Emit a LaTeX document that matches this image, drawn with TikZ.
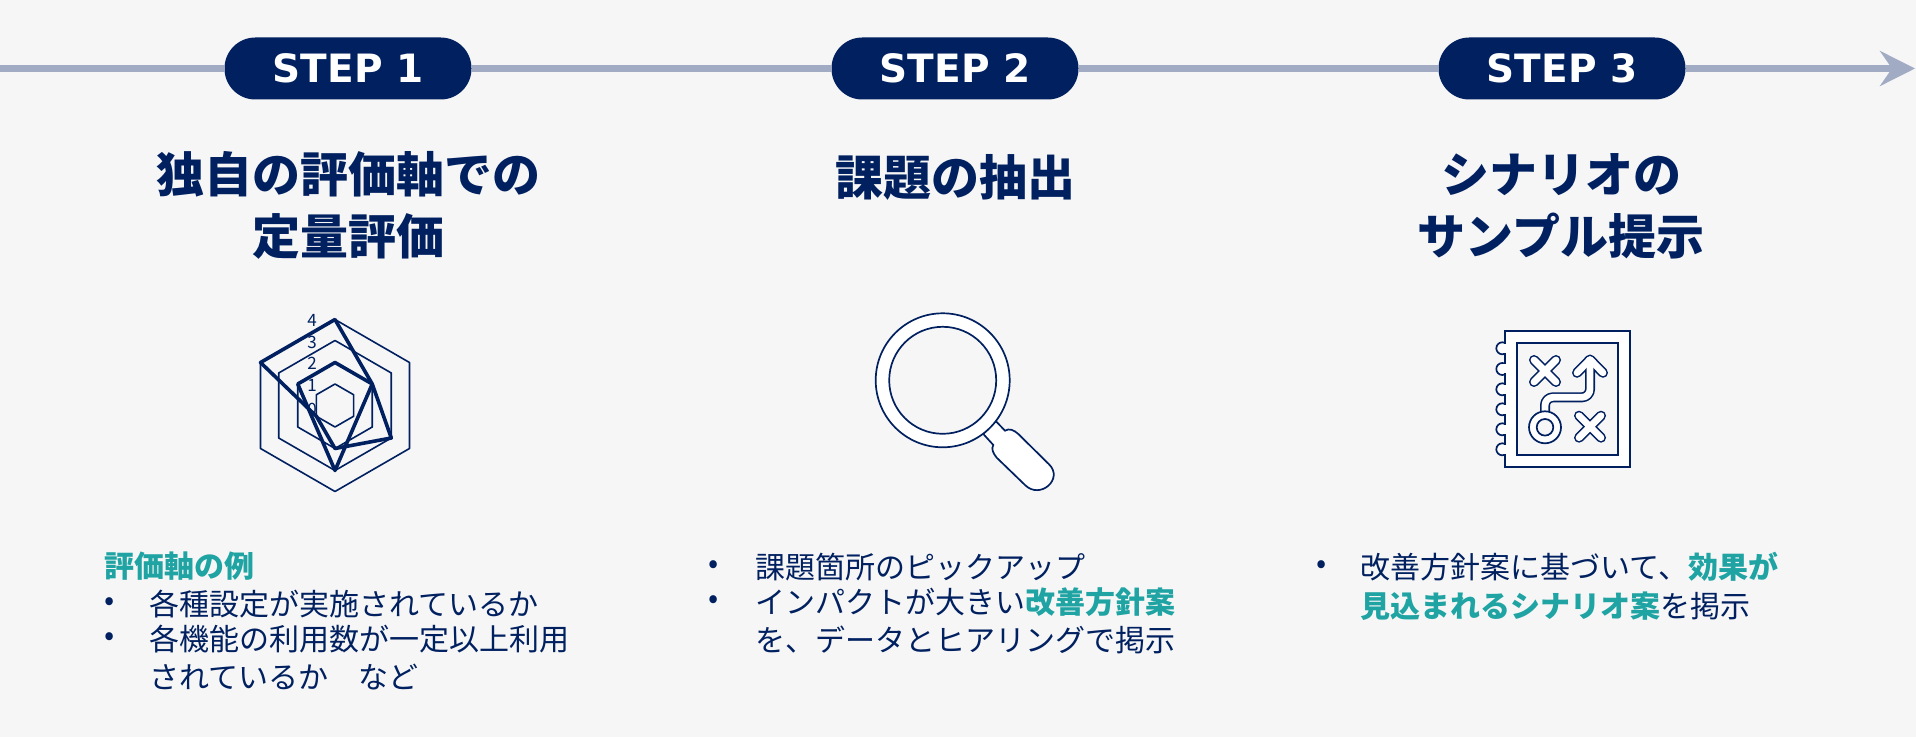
\documentclass[tikz,border=0pt]{standalone}
\usepackage{fontspec}
\setmainfont{Noto Sans CJK JP}
\newfontfamily\stepfont{DejaVu Sans}
\usetikzlibrary{arrows.meta}
\definecolor{navy}{HTML}{002060}
\definecolor{teal}{HTML}{1FA3A3}
\definecolor{axis}{HTML}{A1ACC4}
\definecolor{paper}{HTML}{F6F6F6}
\newcommand{\hl}[1]{\textcolor{teal}{\textbf{#1}}}

\begin{document}
\begin{tikzpicture}[x=0.5pt,y=-0.5pt,>=Stealth,
    pill/.style={fill=navy,text=white,rounded corners=15.4pt,minimum width=123.5pt,minimum height=31pt,inner sep=0pt,font=\stepfont\bfseries\fontsize{19.5}{21}\selectfont},
    axisline/.style={draw=axis,line width=3.5pt},
    heading/.style={text=navy,align=center,font=\bfseries\fontsize{24}{31}\selectfont},
    body/.style={text=navy,anchor=west,inner sep=0pt,align=left,font=\fontsize{15}{18.2}\selectfont},
    lead/.style={body,text=teal,font=\bfseries\fontsize{15}{18.2}\selectfont},
    tick/.style={text=navy,inner sep=0pt,font=\fontsize{8.5}{9}\selectfont},
    grid/.style={draw=navy,line width=0.8pt,line join=round},
    series/.style={draw=navy,line width=1.8pt,line join=round},
    outline/.style={draw=navy,line width=0.85pt,fill=white},
    mapline/.style={draw=navy,line width=1.1pt},
    route/.style={draw=navy,line width=5pt,line cap=round,line join=round},
    routein/.style={draw=white,line width=3.4pt,line cap=round,line join=round}]
  \useasboundingbox (0,0) rectangle (1916,737);
  \fill[paper] (0,0) rectangle (1916,737);

  % timeline
  \coordinate (axisstart) at (0,68.5);
  \coordinate (axisend) at (1915,68.5);
  \node[pill] (stepone) at (348,68.5) {STEP 1};
  \node[pill] (steptwo) at (955,68.5) {STEP 2};
  \node[pill] (stepthree) at (1562,68.5) {STEP 3};
  \draw[axisline] (axisstart) -- (stepone);
  \draw[axisline] (stepone) -- (steptwo);
  \draw[axisline] (steptwo) -- (stepthree);
  \draw[axisline,-{Stealth[length=17.5pt,width=17.5pt,inset=6pt]}] (stepthree) -- (axisend);

  % headings
  \node[heading] (headone) at (348,205) {独自の評価軸での\\定量評価};
  \node[heading] (headtwo) at (955,177) {課題の抽出};
  \node[heading] (headthree) at (1561,206) {シナリオの\\サンプル提示};

  % radar
  \foreach \r in {21.5,43,65,86}
    \draw[grid] (335,405.5) +(90:\r) -- +(30:\r) -- +(-30:\r) -- +(-90:\r) -- +(-150:\r) -- +(150:\r) -- cycle;
  \foreach \v/\y in {0/409,1/385,2/363,3/342,4/320}
    \node[tick] (tick\v) at (312,\y) {\v};
  \draw[series] (335,405.5) +(-90:86) -- +(-30:43) -- +(30:65) -- +(90:43) -- +(150:21.5) -- +(-150:86) -- cycle;
  \draw[series] (335,405.5) +(-90:43) -- +(-30:43) -- +(90:65) -- +(-150:43) -- cycle;

  % magnifier
  \draw[outline] (995.7,421) -- (1005,430.7) .. controls (1009,428) and (1014,430) .. (1018.3,434)
    -- (1049,464.3) .. controls (1064,479) and (1040,500) .. (1025,485)
    -- (996.7,457.7) .. controls (993,453) and (991,449) .. (993.3,445) -- (983.3,434) -- cycle;
  \draw[outline] (942.7,380.3) circle (67);
  \draw[draw=navy,line width=0.85pt,fill=paper] (942.7,380.3) circle (53.5);

  % map
  \foreach \y in {348.3,369,389.3,409.3,429.3,449.3}
    \draw[outline] (1502.3,\y) circle (6);
  \draw[mapline,fill=white] (1505,330.7) rectangle (1630,466.7);
  \foreach \y in {348.3,369,389.3,409.3,429.3,449.3}
    \fill[white] (1503,\y-4.5) rectangle (1507,\y+4.5);
  \draw[mapline,fill=paper] (1516.7,342.7) rectangle (1618.3,455);
  \foreach \s in {route,routein} {
    \draw[\s] (1534,360) -- (1556,382);
    \draw[\s] (1556,360) -- (1534,382);
    \draw[\s] (1579,415.7) -- (1601,437.7);
    \draw[\s] (1601,415.7) -- (1579,437.7);
    \draw[\s] (1577,372.8) -- (1590,359.5) -- (1603,372.8);
    \draw[\s,rounded corners=4pt] (1590,362) -- (1590,397.3) -- (1545,397.3) -- (1545,414);
  }
  \draw[outline] (1545,427.3) circle (16);
  \draw[draw=navy,line width=0.85pt,fill=paper] (1545,427.3) circle (8.3);

  % first column
  \node[lead] (leadone) at (104,566) {評価軸の例};
  \node[body] (dota) at (104,604) {•};
  \node[body] (texta) at (149,604) {各種設定が実施されているか};
  \node[body] (dotb) at (104,639) {•};
  \node[body] (textb) at (149,639) {各機能の利用数が一定以上利用};
  \node[body] (textc) at (149,677) {されているか　など};

  % second column
  \node[body] (dotc) at (708,567) {•};
  \node[body] (textd) at (755,567) {課題箇所のピックアップ};
  \node[body] (dotd) at (708,602) {•};
  \node[body] (texte) at (755,602) {インパクトが大きい\hl{改善方針案}};
  \node[body] (textf) at (755,640) {を、データとヒアリングで掲示};

  % third column
  \node[body] (dote) at (1316,567) {•};
  \node[body] (textg) at (1360,567) {改善方針案に基づいて、\hl{効果が}};
  \node[body] (texth) at (1360,606) {\hl{見込まれるシナリオ案}を掲示};
\end{tikzpicture}
\end{document}
